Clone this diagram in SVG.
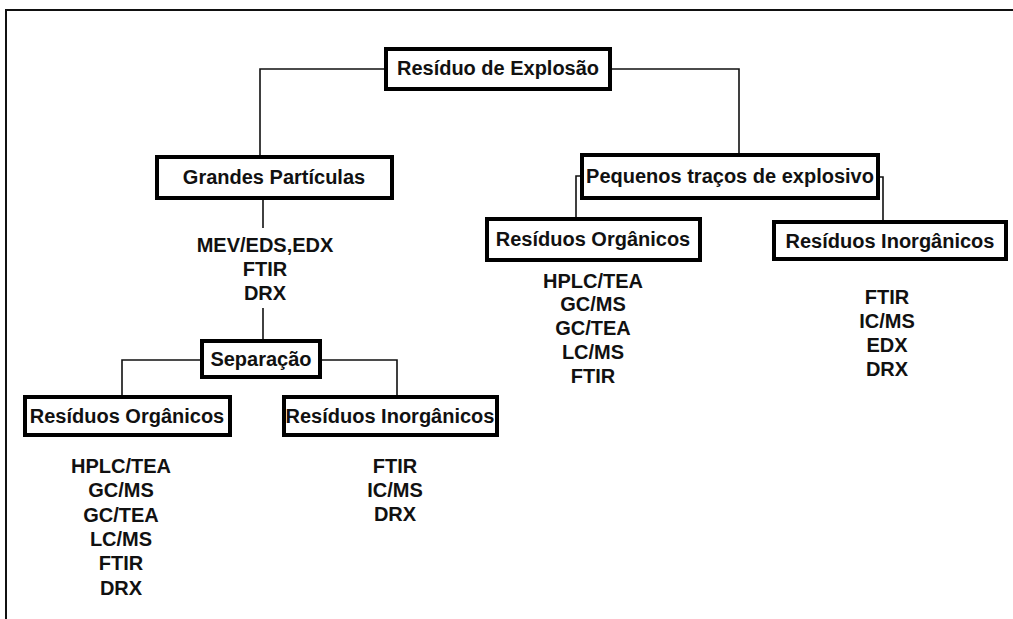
<svg xmlns="http://www.w3.org/2000/svg" width="1013" height="619" viewBox="0 0 1013 619">
<style>
.box{fill:#fff;stroke:#000;stroke-width:4}
.t{font-family:"Liberation Sans",Arial,sans-serif;font-weight:bold;font-size:20px;text-anchor:middle;fill:#111}
.c{fill:none;stroke:#111;stroke-width:1.6}
</style>
<rect width="1013" height="619" fill="#fff"/>
<path d="M6,619 V10 H1013" fill="none" stroke="#111" stroke-width="2"/>
<g id="connectors">
<path class="c" d="M260,155 V69 H386"/>
<path class="c" d="M610,69 H739 V155"/>
<path class="c" d="M263,200 V228"/>
<path class="c" d="M263,308 V341"/>
<path class="c" d="M202,360 H122 V397"/>
<path class="c" d="M320,360 H397 V397"/>
<path class="c" d="M582,176 H576 V219"/>
<path class="c" d="M878,177 H883 V222"/>
</g>
<g id="n-root"><rect class="box" x="386" y="49" width="224" height="40"/><text class="t" x="498" y="75" textLength="202" lengthAdjust="spacingAndGlyphs">Resíduo de Explosão</text></g>
<g id="n-grandes"><rect class="box" x="157" y="157" width="235" height="41"/><text class="t" x="274" y="184">Grandes Partículas</text></g>
<g id="n-grandes-list"><text class="t" x="265" y="252">MEV/EDS,EDX</text><text class="t" x="265" y="276">FTIR</text><text class="t" x="265" y="300">DRX</text></g>
<g id="n-separacao"><rect class="box" x="202" y="341" width="118" height="36"/><text class="t" x="261" y="366">Separação</text></g>
<g id="n-org-left"><rect class="box" x="25" y="397" width="205" height="38"/><text class="t" x="127" y="423">Resíduos Orgânicos</text></g>
<g id="n-inorg-left"><rect class="box" x="284" y="397" width="213" height="38"/><text class="t" x="390" y="423">Resíduos Inorgânicos</text></g>
<g id="n-org-left-list"><text class="t" x="121" y="473">HPLC/TEA</text><text class="t" x="121" y="497">GC/MS</text><text class="t" x="121" y="522">GC/TEA</text><text class="t" x="121" y="546">LC/MS</text><text class="t" x="121" y="570">FTIR</text><text class="t" x="121" y="595">DRX</text></g>
<g id="n-inorg-left-list"><text class="t" x="395" y="473">FTIR</text><text class="t" x="395" y="497">IC/MS</text><text class="t" x="395" y="521">DRX</text></g>
<g id="n-pequenos"><rect class="box" x="582" y="155" width="296" height="43"/><text class="t" x="730" y="183">Pequenos traços de explosivo</text></g>
<g id="n-org-right"><rect class="box" x="487" y="219" width="213" height="41"/><text class="t" x="593" y="246">Resíduos Orgânicos</text></g>
<g id="n-inorg-right"><rect class="box" x="774" y="222" width="232" height="37"/><text class="t" x="890" y="248">Resíduos Inorgânicos</text></g>
<g id="n-org-right-list"><text class="t" x="593" y="288">HPLC/TEA</text><text class="t" x="593" y="311">GC/MS</text><text class="t" x="593" y="335">GC/TEA</text><text class="t" x="593" y="359">LC/MS</text><text class="t" x="593" y="383">FTIR</text></g>
<g id="n-inorg-right-list"><text class="t" x="887" y="304">FTIR</text><text class="t" x="887" y="328">IC/MS</text><text class="t" x="887" y="352">EDX</text><text class="t" x="887" y="376">DRX</text></g>
</svg>
